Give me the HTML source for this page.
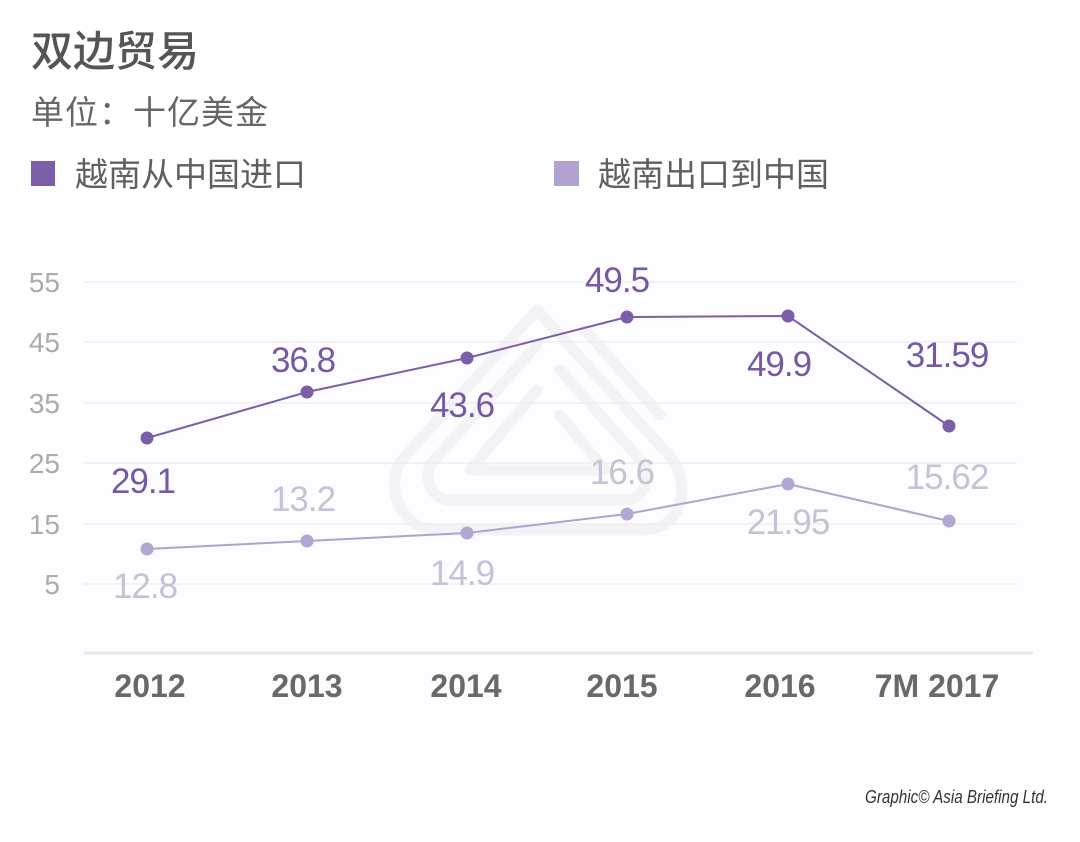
<!DOCTYPE html>
<html>
<head>
<meta charset="utf-8">
<style>
  html,body{margin:0;padding:0;background:#ffffff;}
  body{width:1080px;height:842px;overflow:hidden;}
  svg{display:block;}
  .cjk{font-family:"Liberation Sans","Noto Sans CJK SC",sans-serif;}
  .num{font-family:"Liberation Sans","DejaVu Sans",sans-serif;}
</style>
</head>
<body>
<svg width="1080" height="842" viewBox="0 0 1080 842" xmlns="http://www.w3.org/2000/svg">
  <rect x="0" y="0" width="1080" height="842" fill="#ffffff"/>
  <rect x="47" y="200" width="1033" height="570" fill="#fdfcfe"/>

  <!-- Title -->
  <text x="31" y="66" class="cjk" font-size="42" font-weight="500" fill="#555555">双边贸易</text>
  <text x="31" y="124" class="cjk" font-size="33" fill="#666666" letter-spacing="1">单位：十亿美金</text>

  <!-- Legend -->
  <rect x="31" y="161" width="24" height="25" fill="#7b5ea7"/>
  <text x="75" y="186" class="cjk" font-size="33" fill="#5f5f5f">越南从中国进口</text>
  <rect x="554" y="161" width="25" height="25" fill="#b1a3cf"/>
  <text x="598" y="186" class="cjk" font-size="33" fill="#5f5f5f">越南出口到中国</text>

  <!-- Watermark -->
  <g fill="none" stroke="#f3f2f4" stroke-width="11" stroke-linejoin="round" stroke-linecap="round">
    <path d="M537 310 L400 462 Q385 495 410 520 Q420 530 440 530 L640 530 Q662 530 672 518 Q690 495 675 462 Z"/>
    <path d="M537 345 L430 465 Q422 490 445 500 L630 500 Q652 490 645 465 L560 370"/>
    <path d="M537 390 L470 470 L605 470 L560 415"/>
    <path d="M585 330 L660 415"/>
  </g>

  <!-- Gridlines -->
  <g stroke="#efedf1" stroke-width="1.5">
    <line x1="84" y1="282" x2="1017" y2="282"/>
    <line x1="84" y1="342" x2="1017" y2="342"/>
    <line x1="84" y1="403" x2="1017" y2="403"/>
    <line x1="84" y1="463" x2="1017" y2="463"/>
    <line x1="84" y1="524" x2="1017" y2="524"/>
    <line x1="84" y1="584" x2="1017" y2="584"/>
  </g>
  <line x1="84" y1="653" x2="1033" y2="653" stroke="#e7e5ea" stroke-width="3"/>

  <!-- Y tick labels -->
  <g class="num" font-size="28" fill="#ababab" text-anchor="end">
    <text x="60" y="292">55</text>
    <text x="60" y="352">45</text>
    <text x="60" y="413">35</text>
    <text x="60" y="473">25</text>
    <text x="60" y="534">15</text>
    <text x="60" y="594">5</text>
  </g>

  <!-- X labels -->
  <g class="num" font-size="32" font-weight="bold" fill="#696969" text-anchor="middle">
    <text x="150" y="697">2012</text>
    <text x="307" y="697">2013</text>
    <text x="466" y="697">2014</text>
    <text x="622" y="697">2015</text>
    <text x="780" y="697">2016</text>
    <text x="937" y="697">7M 2017</text>
  </g>

  <!-- Dark series -->
  <polyline points="147,438 307,392 467,358 627,317 788,316 949,426" fill="none" stroke="#7b5ea7" stroke-width="2"/>
  <g fill="#7b5ea7">
    <circle cx="147" cy="438" r="6.5"/>
    <circle cx="307" cy="392" r="6.5"/>
    <circle cx="467" cy="358" r="6.5"/>
    <circle cx="627" cy="317" r="6.5"/>
    <circle cx="788" cy="316" r="6.5"/>
    <circle cx="949" cy="426" r="6.5"/>
  </g>

  <!-- Light series -->
  <polyline points="147,549 307,541 467,533 627,514 788,484 949,521" fill="none" stroke="#b1a3cf" stroke-width="2"/>
  <g fill="#b3a6d1">
    <circle cx="147" cy="549" r="6.5"/>
    <circle cx="307" cy="541" r="6.5"/>
    <circle cx="467" cy="533" r="6.5"/>
    <circle cx="627" cy="514" r="6.5"/>
    <circle cx="788" cy="484" r="6.5"/>
    <circle cx="949" cy="521" r="6.5"/>
  </g>

  <!-- Dark labels -->
  <g class="num" font-size="35" fill="#7659a3" text-anchor="middle" letter-spacing="-1">
    <text x="143" y="493">29.1</text>
    <text x="303" y="372">36.8</text>
    <text x="462" y="417">43.6</text>
    <text x="617" y="292">49.5</text>
    <text x="779" y="376">49.9</text>
    <text x="947" y="367">31.59</text>
  </g>

  <!-- Light labels -->
  <g class="num" font-size="35" fill="#c7c0d9" text-anchor="middle" letter-spacing="-1">
    <text x="145" y="598">12.8</text>
    <text x="303" y="511">13.2</text>
    <text x="462" y="585">14.9</text>
    <text x="622" y="484">16.6</text>
    <text x="788" y="534">21.95</text>
    <text x="947" y="489">15.62</text>
  </g>

  <!-- Footer -->
  <text x="865" y="803" class="num" font-size="18" font-style="italic" fill="#333333" textLength="183" lengthAdjust="spacingAndGlyphs">Graphic© Asia Briefing Ltd.</text>
</svg>
</body>
</html>
